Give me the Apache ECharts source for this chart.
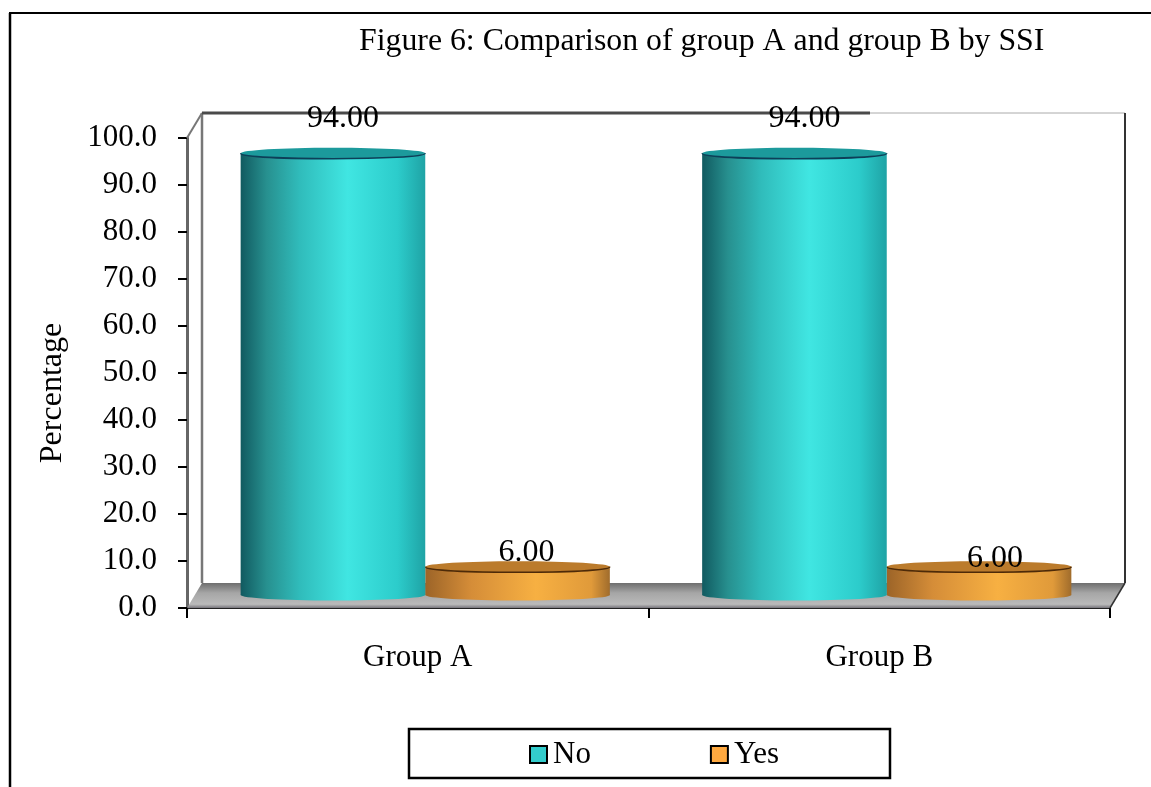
<!DOCTYPE html>
<html>
<head>
<meta charset="utf-8">
<style>html,body{margin:0;padding:0;background:#fff}#chart{width:1151px;height:787px}</style>
<script src="https://cdn.jsdelivr.net/npm/echarts@6/dist/echarts.min.js"></script>
</head>
<body>
<div id="chart"></div>
<script>
const categories = ['Group A', 'Group B'];
const noValues = [94, 94];
const yesValues = [6, 6];
const yTicks = { min: 0, max: 100, step: 10 };

const FONT = '"Liberation Serif", "Times New Roman", serif';
const DEPTH_X = 15, DEPTH_Y = 25;       // how far the back wall sits behind the axes
const BAR_DY = -13;                     // cylinders stand mid-way along the floor
const CAP_RY = 5.5;
// nudges of the value labels off their cylinder's axis: [dx, dy] per category
const labelNudge = {
  No: [[10, -13], [10, -13]],
  Yes: [[9, 7], [16, 13]]
};

const grad = (stops) => ({
  type: 'linear', x: 0, y: 0, x2: 1, y2: 0,
  colorStops: stops.map(([offset, color]) => ({ offset, color }))
});
const tealBody = grad([[0, '#115a60'], [0.14, '#27908f'], [0.32, '#30bcbb'], [0.58, '#40e6e2'], [0.85, '#2ccccb'], [1, '#1fa3a5']]);
const orangeBody = grad([[0, '#9c6428'], [0.25, '#d58d38'], [0.6, '#f7b042'], [0.9, '#e09a3a'], [1, '#a06c2c']]);

function cylinder(side, body, cap, rim, seriesName) {
  return function (params, api) {
    const i = api.value(0);
    const band = api.size([1, 0])[0];
    const w = band * 0.4;
    const top = api.coord([i, api.value(1)]);
    const base = api.coord([i, 0]);
    const cx = top[0] + DEPTH_X / 2 + side * w / 2;
    const yTop = top[1] + BAR_DY;
    const yBase = base[1] + BAR_DY;
    const x0 = cx - w / 2, x1 = cx + w / 2;
    const nudge = labelNudge[seriesName][i];
    return {
      type: 'group',
      children: [
        { type: 'ellipse', shape: { cx, cy: yBase, rx: w / 2, ry: CAP_RY }, style: { fill: body } },
        { type: 'rect', shape: { x: x0, y: yTop, width: w, height: yBase - yTop }, style: { fill: body } },
        { type: 'ellipse', shape: { cx, cy: yTop, rx: w / 2, ry: CAP_RY }, style: { fill: cap } },
        { type: 'bezierCurve',
          shape: { x1: x0, y1: yTop, x2: x1, y2: yTop, cpx1: x0, cpy1: yTop + CAP_RY * 4 / 3, cpx2: x1, cpy2: yTop + CAP_RY * 4 / 3 },
          style: { stroke: rim, lineWidth: 1.6, fill: null } },
        { type: 'text',
          x: cx + nudge[0], y: yTop - CAP_RY + nudge[1],
          style: { text: api.value(1).toFixed(2), font: '32px ' + FONT, fill: '#000', align: 'center', verticalAlign: 'bottom' },
          z2: 10 }
      ]
    };
  };
}

// Floor and back wall of the 3-D box, hung off the value axis
function chartBox(params, api) {
  const o = api.coord([0, 0]);
  const band = api.size([1, 0])[0];
  const left = o[0] - band / 2;
  const right = left + band * categories.length;
  const yZero = o[1];
  const yTop = api.coord([0, yTicks.max])[1];
  const dark = '#4a4a4a';
  const line = (x1, y1, x2, y2, stroke, lineWidth) => ({
    type: 'line', shape: { x1, y1, x2, y2 }, style: { stroke, lineWidth }
  });
  return {
    type: 'group',
    children: [
      { type: 'polygon',
        shape: { points: [[left, yZero], [left + DEPTH_X, yZero - DEPTH_Y], [right + DEPTH_X, yZero - DEPTH_Y], [right, yZero]] },
        style: { fill: { type: 'linear', x: 0, y: 0, x2: 0, y2: 1, colorStops: [
          { offset: 0, color: '#6e6e6e' }, { offset: 0.4, color: '#a6a6a6' }, { offset: 0.85, color: '#bababa' }, { offset: 1, color: '#77757c' }
        ] } } },
      line(left, yTop, left + DEPTH_X, yTop - DEPTH_Y, '#777', 2),
      line(left + DEPTH_X, yTop - DEPTH_Y, left + DEPTH_X, yZero - DEPTH_Y, '#777', 2.5),
      line(left + DEPTH_X, yTop - DEPTH_Y, 870, yTop - DEPTH_Y, dark, 3),
      line(870, yTop - DEPTH_Y, right + DEPTH_X, yTop - DEPTH_Y, '#aaa', 1),
      line(right + DEPTH_X, yTop - DEPTH_Y, right + DEPTH_X, yZero - DEPTH_Y, '#333', 2),
      line(right + DEPTH_X, yZero - DEPTH_Y, right, yZero, '#333', 1.5)
    ]
  };
}

const chart = echarts.init(document.getElementById('chart'));
chart.setOption({
  animation: false,
  backgroundColor: '#fff',
  title: {
    text: 'Figure 6: Comparison of group A and group B by SSI',
    left: 359, top: 26, padding: 0,
    textStyle: { fontFamily: FONT, fontWeight: 'normal', fontSize: 31.8, color: '#000' }
  },
  grid: { left: 187, right: 41, top: 138, bottom: 179, containLabel: false },
  legend: {
    data: [
      { name: 'No', itemStyle: { color: '#33cccc', borderColor: '#000', borderWidth: 2 } },
      { name: 'Yes', itemStyle: { color: '#ffa940', borderColor: '#000', borderWidth: 2 } }
    ],
    left: 409, top: 729,
    orient: 'horizontal',
    icon: 'rect',
    itemWidth: 17, itemHeight: 17, itemGap: 119,
    padding: [10, 111, 8, 120],
    borderColor: '#000', borderWidth: 2.5, borderRadius: 0,
    textStyle: { fontFamily: FONT, fontSize: 31, color: '#000', padding: [3, 0, 0, 1] }
  },
  xAxis: {
    type: 'category',
    data: categories,
    axisLine: { lineStyle: { color: '#222', width: 2 } },
    axisTick: { show: true, length: 10, lineStyle: { color: '#000', width: 2 } },
    axisLabel: { fontFamily: FONT, fontSize: 31, color: '#000', margin: 34 }
  },
  yAxis: {
    type: 'value',
    min: yTicks.min, max: yTicks.max, interval: yTicks.step,
    splitLine: { show: false },
    axisLine: { show: true, lineStyle: { color: '#666', width: 3 } },
    axisTick: { show: true, length: 9, lineStyle: { color: '#000', width: 2 } },
    axisLabel: { fontFamily: FONT, fontSize: 31, color: '#000', margin: 30, formatter: (v) => v.toFixed(1) }
  },
  graphic: [
    { type: 'line', shape: { x1: 9, y1: 13, x2: 1151, y2: 13 }, style: { stroke: '#000', lineWidth: 2 } },
    { type: 'line', shape: { x1: 10, y1: 13, x2: 10, y2: 787 }, style: { stroke: '#000', lineWidth: 2.5 } },
    { type: 'text', x: 53, y: 393, rotation: Math.PI / 2,
      style: { text: 'Percentage', font: '32px ' + FONT, fill: '#000', align: 'center', verticalAlign: 'middle' } }
  ],
  series: [
    { type: 'custom', name: 'box', silent: true, clip: false, z: 1, renderItem: chartBox, data: [[0, 0]], encode: { x: 0, y: 1 } },
    { type: 'custom', name: 'No', clip: false, z: 3,
      itemStyle: { color: '#33cccc' },
      renderItem: cylinder(-1, tealBody, '#1c9a9c', '#0d3f58', 'No'),
      data: noValues.map((v, i) => [i, v]), encode: { x: 0, y: 1 } },
    { type: 'custom', name: 'Yes', clip: false, z: 2,
      itemStyle: { color: '#ffa940' },
      renderItem: cylinder(1, orangeBody, '#bb7b2c', '#4d2a08', 'Yes'),
      data: yesValues.map((v, i) => [i, v]), encode: { x: 0, y: 1 } }
  ]
});
</script>
</body>
</html>
